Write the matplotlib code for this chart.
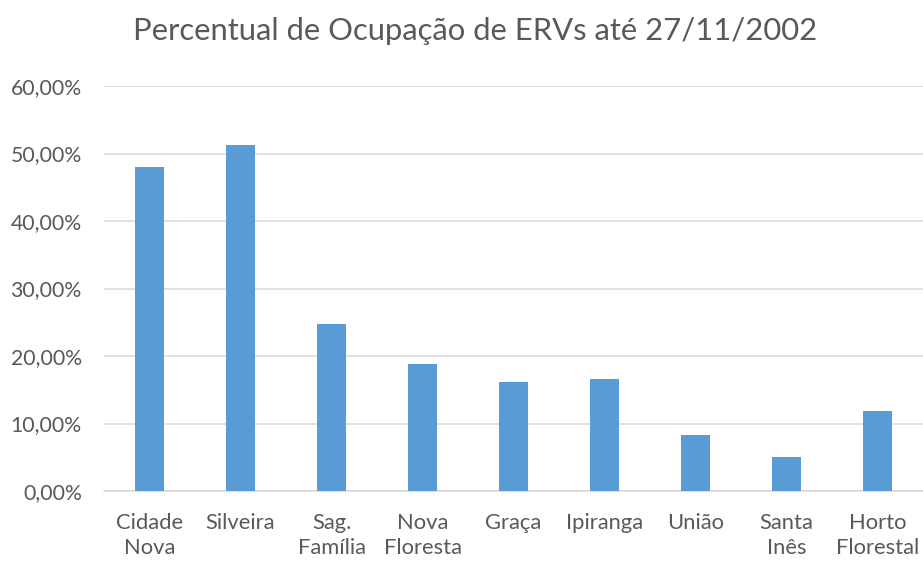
import numpy as np
import matplotlib
matplotlib.use("Agg")
import matplotlib.pyplot as plt
from matplotlib.ticker import FuncFormatter

bairros = ["Cidade\nNova", "Silveira", "Sag.\nFamília", "Nova\nFloresta", "Graça",
           "Ipiranga", "União", "Santa\nInês", "Horto\nFlorestal"]
ocupacao = [0.480, 0.512, 0.248, 0.188, 0.162, 0.166, 0.083, 0.051, 0.119]
yticks = [0.0, 0.1, 0.2, 0.3, 0.4, 0.5, 0.6]

plt.rcParams["font.family"] = ["Lato", "DejaVu Sans"]
TXT = "#595959"

fig = plt.figure(figsize=(9.23, 5.61), dpi=100)
ax = fig.add_axes([104 / 923, 1 - 491 / 561, 1 - 104 / 923, (491 - 86) / 561])
x = np.arange(len(bairros))
ax.bar(x, ocupacao, width=0.31, color="#5b9bd5", zorder=3)
ax.set_xlim(-0.5, len(bairros) - 0.5)
ax.set_ylim(0, 0.6)
ax.set_yticks(yticks)
ax.yaxis.set_major_formatter(FuncFormatter(lambda v, p: ("%.2f%%" % (v * 100)).replace(".", ",")))
ax.set_xticks(x)
ax.set_xticklabels(bairros, linespacing=1.3)
ax.tick_params(axis="y", length=0, labelsize=15.3, colors=TXT, pad=16)
ax.tick_params(axis="x", length=0, labelsize=15.8, colors=TXT, pad=16)
ax.grid(axis="y", color="#d9d9d9", linewidth=1.1, zorder=0)
for s in ["top", "right", "left"]:
    ax.spines[s].set_visible(False)
ax.spines["bottom"].set_color("#d9d9d9")
ax.spines["bottom"].set_linewidth(1.1)

fig.text(475 / 923, 1 - 40 / 561, "Percentual de Ocupação de ERVs até 27/11/2002",
         ha="center", va="baseline", fontsize=22.3, color=TXT)
fig.savefig("out.png", dpi=100, facecolor="white")
